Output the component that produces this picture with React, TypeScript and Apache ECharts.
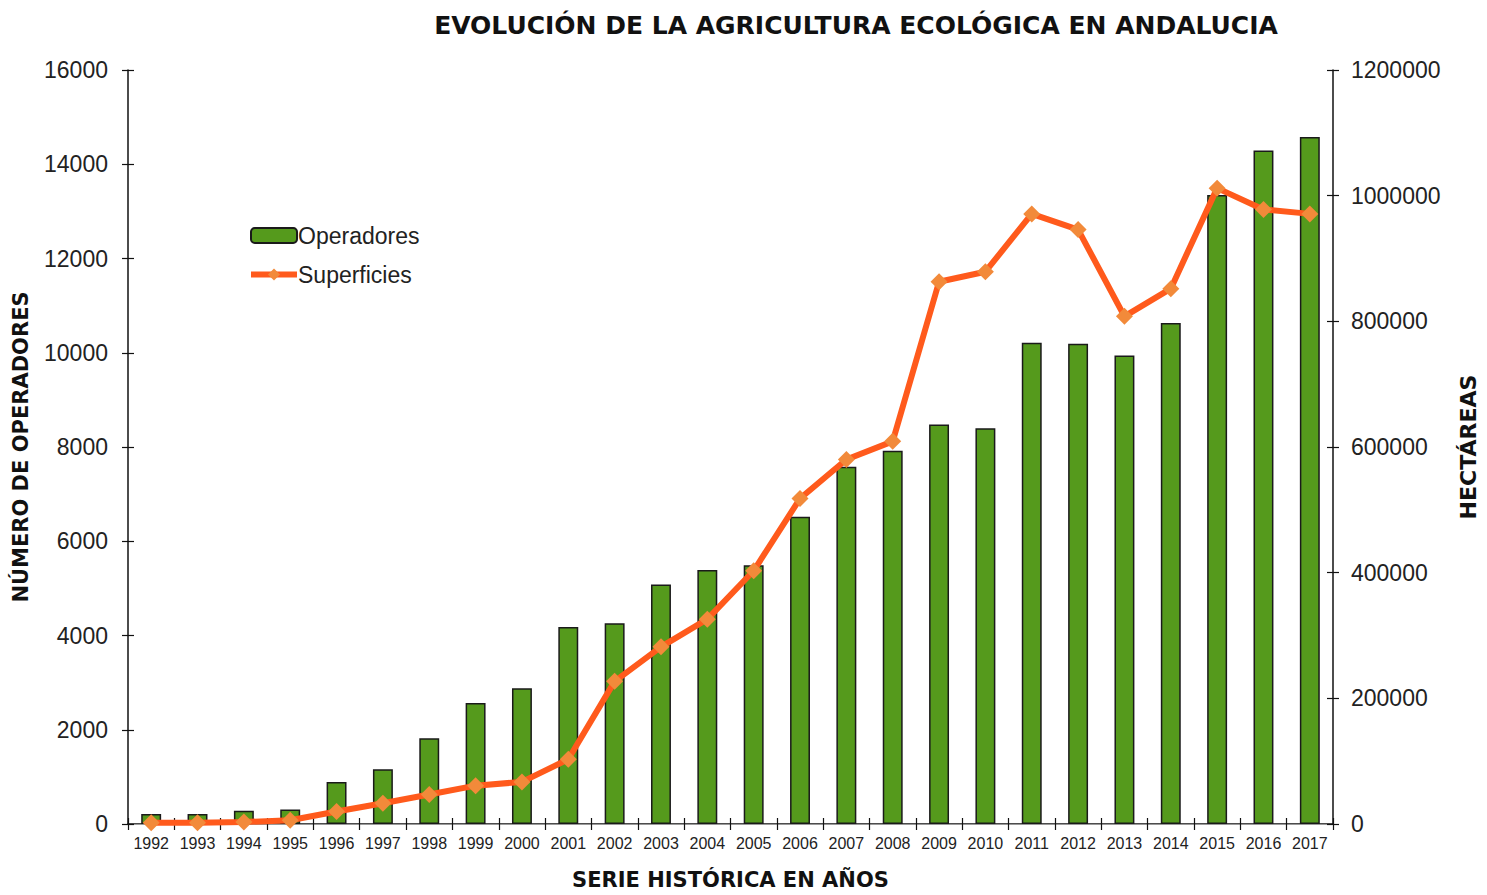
import React, { useEffect, useRef } from "react";
import * as echarts from "echarts";

const years = ["1992","1993","1994","1995","1996","1997","1998","1999","2000","2001","2002","2003","2004","2005","2006","2007","2008","2009","2010","2011","2012","2013","2014","2015","2016","2017"];
const operadores = [210, 210, 280, 310, 890, 1160, 1820, 2570, 2880, 4180, 4260, 5080, 5390, 5490, 6520, 7580, 7920, 8480, 8400, 10210, 10190, 9940, 10630, 13350, 14290, 14580];
const superficies = [2000, 2000, 3000, 6000, 20000, 33000, 47000, 61000, 67000, 103000, 227000, 282000, 326000, 403000, 518000, 580000, 609000, 863000, 879000, 971000, 946000, 808000, 852000, 1012000, 978000, 971000];

const FONT = "Liberation Sans, Arial, sans-serif";
const BOLD = "DejaVu Sans, Liberation Sans, sans-serif";

export default function App() {
  const ref = useRef<HTMLDivElement>(null);
  useEffect(() => {
    document.body.style.margin = "0";
    const chart = echarts.init(ref.current!, undefined, { renderer: "svg" });
    const tickStyle = { color: "#111", width: 1.2 };
    chart.setOption({
      animation: false,
      backgroundColor: "#ffffff",
      textStyle: { fontFamily: FONT },
      title: {
        text: "EVOLUCIÓN DE LA AGRICULTURA ECOLÓGICA EN ANDALUCIA",
        left: 851,
        textAlign: "center",
        top: 8,
        textStyle: { fontFamily: BOLD, fontSize: 25, fontWeight: "bold", color: "#111" },
      },
      legend: {
        orient: "vertical",
        left: 243,
        top: 219,
        itemWidth: 46,
        itemHeight: 15,
        itemGap: 16,
        textStyle: { fontFamily: FONT, fontSize: 23, color: "#222", padding: [0, 0, 0, -4] },
        data: [
          { name: "Operadores" },
          { name: "Superficies", lineStyle: { width: 6 } },
        ],
      },
      grid: { left: 128, right: 145, top: 70, bottom: 59, containLabel: false },
      xAxis: [
        {
          type: "category",
          data: years,
          position: "bottom",
          name: "SERIE HISTÓRICA EN AÑOS",
          nameLocation: "middle",
          nameGap: 45,
          nameTextStyle: { fontFamily: BOLD, fontSize: 21, fontWeight: "bold", color: "#111" },
          axisLine: { lineStyle: { color: "#111", width: 1.5 } },
          axisTick: { show: true, length: 6, lineStyle: tickStyle },
          axisLabel: { fontFamily: FONT, fontSize: 16, color: "#222", margin: 11, interval: 0 },
        },
        {
          type: "category",
          data: years,
          position: "top",
          axisLine: { lineStyle: { color: "#999", width: 1 } },
          axisTick: { show: false },
          axisLabel: { show: false },
        },
        {
          type: "category",
          data: years,
          position: "bottom",
          axisLine: { show: false },
          axisTick: { show: true, inside: true, length: 6, lineStyle: tickStyle },
          axisLabel: { show: false },
        },
      ],
      yAxis: [
        {
          type: "value",
          min: 0,
          max: 16000,
          interval: 2000,
          name: "NÚMERO DE OPERADORES",
          nameLocation: "middle",
          nameGap: 97,
          nameRotate: 90,
          nameTextStyle: { fontFamily: BOLD, fontSize: 21, fontWeight: "bold", color: "#111" },
          axisLine: { show: true, lineStyle: { color: "#111", width: 1.5 } },
          axisTick: { show: true, length: 6, lineStyle: tickStyle },
          axisLabel: { fontFamily: FONT, fontSize: 23, color: "#222", margin: 20, formatter: (v: number) => String(v) },
          splitLine: { show: false },
        },
        {
          type: "value",
          min: 0,
          max: 1200000,
          interval: 200000,
          position: "right",
          name: "HECTÁREAS",
          nameLocation: "middle",
          nameGap: 124,
          nameRotate: 90,
          nameTextStyle: { fontFamily: BOLD, fontSize: 22, fontWeight: "bold", color: "#111" },
          axisLine: { show: true, lineStyle: { color: "#111", width: 1.5 } },
          axisTick: { show: true, length: 6, lineStyle: tickStyle },
          axisLabel: { fontFamily: FONT, fontSize: 23, color: "#222", margin: 18, formatter: (v: number) => String(v) },
          splitLine: { show: false },
        },
        {
          type: "value",
          min: 0,
          max: 16000,
          interval: 2000,
          position: "left",
          axisLine: { show: false },
          axisTick: { show: true, inside: true, length: 6, lineStyle: tickStyle },
          axisLabel: { show: false },
          splitLine: { show: false },
        },
        {
          type: "value",
          min: 0,
          max: 1200000,
          interval: 200000,
          position: "right",
          axisLine: { show: false },
          axisTick: { show: true, inside: true, length: 6, lineStyle: tickStyle },
          axisLabel: { show: false },
          splitLine: { show: false },
        },
      ],
      series: [
        {
          name: "Operadores",
          type: "bar",
          data: operadores,
          barWidth: "43%",
          itemStyle: { color: "#559A1C", borderColor: "#1a1a1a", borderWidth: 1.5 },
          z: 2,
        },
        {
          name: "Superficies",
          type: "line",
          yAxisIndex: 1,
          data: superficies,
          symbol: "diamond",
          symbolSize: 17,
          lineStyle: { color: "#FF5A1C", width: 6 },
          itemStyle: { color: "#F28A3A" },
          z: 3,
        },
      ],
    });
    return () => chart.dispose();
  }, []);
  return <div ref={ref} style={{ position: "fixed", left: 0, top: 0, width: 1487, height: 895 }} />;
}
